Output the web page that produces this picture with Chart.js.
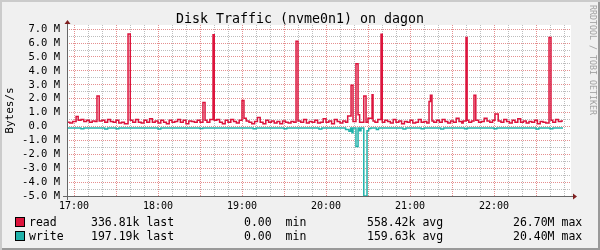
<!DOCTYPE html>
<html>
<head>
<meta charset="utf-8">
<script src="https://cdn.jsdelivr.net/npm/chart.js@4.4.1/dist/chart.umd.min.js"></script>
<style>
  body { margin: 0; background: #fff; }
  #wrap {
    position: relative; width: 600px; height: 250px; overflow: hidden;
    background: #f0f0f0;
    box-shadow: inset 2px 2px 0 #cbcbcb, inset -2px -2px 0 #999;
    font-family: 'DejaVu Sans Mono', monospace; color: #000;
  }
  #diskChart { position: absolute; left: 0; top: 0; }
  #title { position: absolute; left: 0; top: 11px; width: 600px; text-align: center; font-size: 13.3px; line-height: 15px; }
  #mark { position: absolute; left: 597px; top: 5px; transform-origin: 0 0; transform: rotate(90deg);
          font-size: 8.3px; line-height: 9px; color: #a0a0a0; white-space: pre; }
  .t { position: absolute; white-space: pre; font-size: 11.5px; line-height: 14px; }
  .box { position: absolute; left: 15px; width: 8px; height: 8px; border: 1px solid #000; }
</style>
</head>
<body>
<div id="wrap">
  <canvas id="diskChart" width="600" height="250"></canvas>
  <div id="title">Disk Traffic (nvme0n1) on dagon</div>
  <div id="mark">RRDTOOL / TOBI OETIKER</div>
  <div class="box" style="top:217px;background:#dc143c"></div>
  <div class="t" style="left:29px;top:215px">read</div>
  <div class="t" style="left:91px;top:215px">336.81k last</div>
  <div class="t" style="left:244px;top:215px">0.00  min</div>
  <div class="t" style="left:367px;top:215px">558.42k avg</div>
  <div class="t" style="left:513px;top:215px">26.70M max</div>
  <div class="box" style="top:231px;background:#20b2aa"></div>
  <div class="t" style="left:29px;top:229px">write</div>
  <div class="t" style="left:91px;top:229px">197.19k last</div>
  <div class="t" style="left:244px;top:229px">0.00  min</div>
  <div class="t" style="left:367px;top:229px">159.63k avg</div>
  <div class="t" style="left:513px;top:229px">20.40M max</div>
</div>
<script>
// minutes after 17:00, values in MB/s (write plotted negative)
const readT = [-5, -3, -1, 1.5, 3, 5, 7, 9, 11, 13, 15, 16.4, 18, 20, 22, 24, 26, 28, 30, 32, 34, 36,
  38.6, 40.2, 42, 44, 46, 48, 50, 52, 54, 56, 58, 60, 62, 64, 66, 68, 70, 72, 74, 76, 78, 80, 82, 84, 86, 88, 90,
  92.1, 93.6, 95, 97, 99.3, 100.2, 102, 104, 106, 108, 110, 112, 114, 116, 118, 120, 121.4, 123, 125, 127, 129,
  131, 133, 135, 137, 139, 141, 143, 145, 147, 149, 151, 153, 155, 157, 158.6, 160, 162, 164, 166, 168, 170,
  172, 174, 176, 178, 180, 182, 184, 186, 188, 190, 192, 194, 195.5, 197.9, 199.3, 201.4, 202.9, 204, 207,
  208.6, 210, 212.9, 213.6, 215, 217, 219.3, 220.2, 222, 224, 226, 228, 230, 232, 234, 236, 238, 240, 242,
  244, 246, 248, 250, 252, 253.6, 254.6, 255.7, 257, 259, 261, 263, 265, 267, 269, 271, 273, 275, 277, 278,
  280, 280.8, 282, 284, 285.7, 287, 289, 291, 293, 295, 297, 299, 300.7, 303, 305, 307, 309, 311, 313, 315,
  317, 319, 321, 323, 325, 327, 329, 331, 333, 335, 337, 339.3, 340.7, 342, 344, 346, 348, 349.3];
const readV = [0.30, 0.25, 0.35, 0.72, 0.45, 0.50, 0.35, 0.45, 0.30, 0.40, 0.35, 2.20, 0.40, 0.45, 0.30, 0.50, 0.35, 0.30, 0.45, 0.25, 0.30, 0.20,
  6.65, 0.45, 0.30, 0.50, 0.30, 0.25, 0.45, 0.30, 0.55, 0.30, 0.40, 0.25, 0.45, 0.30, 0.20, 0.45, 0.30, 0.35, 0.50, 0.30, 0.45, 0.20, 0.40, 0.35, 0.30, 0.45, 0.30,
  1.72, 0.45, 0.30, 0.50, 6.60, 0.45, 0.50, 0.30, 0.20, 0.45, 0.30, 0.50, 0.35, 0.25, 0.45, 1.87, 0.60, 0.40, 0.30, 0.20, 0.35,
  0.65, 0.30, 0.20, 0.45, 0.30, 0.40, 0.25, 0.35, 0.20, 0.40, 0.30, 0.25, 0.35, 0.30, 6.13, 0.40, 0.30, 0.50, 0.25, 0.35, 0.30,
  0.45, 0.25, 0.30, 0.55, 0.30, 0.40, 0.20, 0.50, 0.35, 0.25, 0.40, 0.30, 0.75, 2.96, 0.35, 4.52, 0.85, 0.30, 2.19,
  0.30, 0.60, 2.29, 0.40, 0.30, 0.50, 6.64, 0.30, 0.45, 0.35, 0.25, 0.50, 0.30, 0.40, 0.20, 0.35, 0.30, 0.45, 0.25,
  0.30, 0.50, 0.30, 0.35, 0.25, 1.80, 2.24, 0.40, 0.30, 0.45, 0.30, 0.50, 0.35, 0.25, 0.40, 0.30, 0.60, 0.35, 0.25, 0.40,
  6.40, 0.45, 0.30, 0.40, 2.24, 0.45, 0.30, 0.35, 0.60, 0.40, 0.30, 0.45, 0.90, 0.40, 0.30, 0.50, 0.35, 0.25, 0.45, 0.30,
  0.55, 0.30, 0.40, 0.25, 0.35, 0.30, 0.45, 0.20, 0.35, 0.30, 0.25, 6.40, 0.45, 0.30, 0.50, 0.35, 0.40, 0.40];
const writeT = [-5, 5, 7, 22, 24, 30, 32, 60, 62, 90, 92, 128, 130, 150, 152, 175, 177, 194, 196.4, 197.6,
  198.6, 199.3, 201.4, 202.9, 204, 205, 207, 209.3, 210.5, 212, 216, 217.5, 235, 237, 248, 250, 262, 264,
  279, 281, 300, 302, 330, 332, 340, 342, 349.3];
const writeV = [-0.10, -0.17, -0.10, -0.18, -0.10, -0.16, -0.10, -0.18, -0.10, -0.15, -0.10, -0.17, -0.10, -0.16, -0.10, -0.18, -0.10, -0.22, -0.35, -0.10,
  -0.45, -0.10, -1.44, -0.10, -0.30, -0.10, -5.00, -0.30, -0.15, -0.10, -0.22, -0.10, -0.18, -0.10, -0.16, -0.10, -0.18, -0.10,
  -0.17, -0.10, -0.16, -0.10, -0.18, -0.10, -0.17, -0.10, -0.10];

const hourTicks = [0, 60, 120, 180, 240, 300];
const hourLabels = ['17:00', '18:00', '19:00', '20:00', '21:00', '22:00'];
const yTicks = [-5, -4, -3, -2, -1, 0, 1, 2, 3, 4, 5, 6, 7];
const yLabels = ['-5.0 M', '-4.0 M', '-3.0 M', '-2.0 M', '-1.0 M', '0.0  ', '1.0 M', '2.0 M', '3.0 M', '4.0 M', '5.0 M', '6.0 M', '7.0 M'];

const minorGrid = '#bdbdbd';
const majorGrid = '#e58f8f';

const frame = {
  id: 'frame',
  beforeDraw(chart) {
    const {ctx, chartArea: a} = chart;
    ctx.save();
    ctx.fillStyle = '#fff';
    ctx.fillRect(a.left, a.top, a.right - a.left, a.bottom - a.top);
    ctx.restore();
  },
  afterDraw(chart) {
    const {ctx, chartArea: a} = chart;
    const x0 = a.left + 0.5, y0 = a.bottom + 0.5;
    ctx.save();
    ctx.strokeStyle = '#666';
    ctx.lineWidth = 1;
    ctx.beginPath();
    ctx.moveTo(x0, a.bottom + 4); ctx.lineTo(x0, a.top - 2);
    ctx.moveTo(a.left - 4, y0); ctx.lineTo(a.right + 3, y0);
    ctx.stroke();
    ctx.fillStyle = '#7f1f1f';
    ctx.beginPath();
    ctx.moveTo(x0 - 3, a.top - 1); ctx.lineTo(x0 + 3, a.top - 1); ctx.lineTo(x0, a.top - 5); ctx.closePath();
    ctx.moveTo(a.right + 2, y0 - 3); ctx.lineTo(a.right + 2, y0 + 3); ctx.lineTo(a.right + 6, y0); ctx.closePath();
    ctx.fill();
    ctx.restore();
  }
};

new Chart(document.getElementById('diskChart'), {
  type: 'line',
  data: {
    datasets: [
      { label: 'read', data: readT.map((t, i) => ({x: t, y: readV[i]})), borderColor: '#dc143c',
        borderWidth: 1.5, stepped: 'before', pointRadius: 0, fill: false },
      { label: 'write', data: writeT.map((t, i) => ({x: t, y: writeV[i]})), borderColor: '#20b2aa',
        borderWidth: 1.5, stepped: 'before', pointRadius: 0, fill: false }
    ]
  },
  options: {
    responsive: false,
    animation: false,
    events: [],
    layout: { padding: { left: 0, top: 25, right: 29, bottom: 34 } },
    plugins: { legend: { display: false }, title: { display: false }, tooltip: { enabled: false } },
    scales: {
      x: {
        type: 'linear', min: -5, max: 355,
        afterBuildTicks(scale) {
          const ticks = [];
          for (let v = 0; v <= 350; v += 10) ticks.push({value: v});
          scale.ticks = ticks;
        },
        afterFit(scale) { scale.height = 20; },
        border: { display: false, dash: [1, 1] },
        grid: { drawTicks: false, lineWidth: 1, color: c => (c.tick.value % 30 === 0 ? majorGrid : minorGrid) },
        ticks: {
          autoSkip: false, maxRotation: 0, padding: 4, color: '#000',
          font: { family: 'DejaVu Sans Mono', size: 10 },
          callback: v => { const i = hourTicks.indexOf(v); return i < 0 ? '' : hourLabels[i]; }
        }
      },
      y: {
        type: 'linear', min: -5, max: 7.3,
        afterBuildTicks(scale) {
          const ticks = [];
          for (let v = -5; v <= 7; v += 0.5) ticks.push({value: v});
          scale.ticks = ticks;
        },
        afterFit(scale) { scale.width = 67; },
        border: { display: false, dash: [1, 1] },
        grid: { drawTicks: false, lineWidth: 1, color: c => (Number.isInteger(c.tick.value) ? majorGrid : minorGrid) },
        title: { display: true, text: 'Bytes/s', color: '#000', padding: { top: 4, bottom: 0 },
                 font: { family: 'DejaVu Sans Mono', size: 11 } },
        ticks: {
          autoSkip: false, padding: 7, color: '#000',
          font: { family: 'DejaVu Sans Mono', size: 10.5 },
          callback: v => { const i = yTicks.indexOf(v); return i < 0 ? '' : yLabels[i]; }
        }
      }
    }
  },
  plugins: [frame]
});
</script>
</body>
</html>
